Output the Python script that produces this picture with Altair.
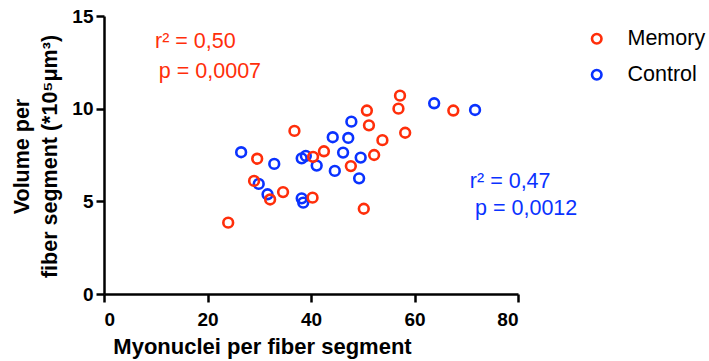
import altair as alt
import pandas as pd

# Memory group
mem_x = [24.0, 29.0, 29.6, 32.1, 34.6, 36.8, 40.4, 40.3, 42.5, 47.7, 50.2, 50.8, 51.2, 52.2, 53.8, 56.9, 57.2, 58.2, 67.5]
mem_y = [3.85, 6.1, 7.3, 5.1, 5.5, 8.8, 7.4, 5.2, 7.7, 6.9, 4.6, 9.9, 9.1, 7.5, 8.3, 10.0, 10.7, 8.7, 9.9]
# Control group
ctl_x = [26.5, 29.9, 31.6, 32.9, 38.2, 39.0, 38.2, 38.5, 41.1, 44.2, 44.6, 46.2, 47.2, 47.8, 49.6, 49.3, 63.8, 71.7]
ctl_y = [7.65, 5.94, 5.38, 7.02, 7.32, 7.45, 5.16, 4.93, 6.93, 8.46, 6.64, 7.63, 8.42, 9.3, 7.36, 6.24, 10.29, 9.93]

groups = ["Memory", "Control"]
colors = ["#FF2E0A", "#0A32FF"]

ann_text = ["r² = 0,50", "p = 0,0007", "r² = 0,47", "p = 0,0012"]
ann_x = [9.85, 10.6, 70.7, 71.7]
ann_y = [13.27, 11.65, 5.72, 4.26]
ann_group = ["Memory", "Memory", "Control", "Control"]

FONT = "Liberation Sans"

df = pd.DataFrame(
    {"x": ctl_x + mem_x, "y": ctl_y + mem_y,
     "group": ["Control"] * len(ctl_x) + ["Memory"] * len(mem_x)}
)
ann = pd.DataFrame({"x": ann_x, "y": ann_y, "text": ann_text, "group": ann_group})

xax = alt.Axis(
    values=[0, 20, 40, 60, 80], grid=False, domainColor="black", domainWidth=2.5,
    tickColor="black", tickWidth=2.5, tickSize=8, labelFont=FONT, labelFontSize=19,
    labelFontWeight="bold", labelColor="black", labelPadding=8,
    title="Myonuclei per fiber segment", titleFont=FONT, titleFontSize=22,
    titleFontWeight="bold", titleColor="black", titleX=158, titleY=59,
    titleBaseline="alphabetic", titleAlign="center",
)
yax = alt.Axis(
    values=[0, 5, 10, 15], grid=False, domainColor="black", domainWidth=2.5,
    tickColor="black", tickWidth=2.5, tickSize=8, labelFont=FONT, labelFontSize=19,
    labelFontWeight="bold", labelColor="black", labelPadding=3,
    title=["Volume per", "fiber segment (*10⁵μm³)"], titleFont=FONT, titleFontSize=21.5,
    titleFontWeight="bold", titleColor="black", titleX=-93, titleY=140,
    titleAlign="center", titleBaseline="top", titleLineHeight=28, titleAngle=270,
)

points = alt.Chart(df).mark_point(
    shape="circle", filled=False, size=95, strokeWidth=2.6, opacity=1
).encode(
    x=alt.X("x:Q", scale=alt.Scale(domain=[0, 80], nice=False, zero=True), axis=xax),
    y=alt.Y("y:Q", scale=alt.Scale(domain=[0, 15], nice=False), axis=yax),
    stroke=alt.Stroke(
        "group:N", scale=alt.Scale(domain=groups, range=colors),
        legend=alt.Legend(
            title=None, orient="none", legendX=482, legendY=12, labelFont=FONT,
            labelFontSize=21.5, labelColor="black", symbolSize=90, symbolStrokeWidth=2.6,
            symbolType="circle", symbolFillColor="white", labelOffset=20,
            rowPadding=13, padding=0,
        ),
    ),
)

texts = alt.Chart(ann).mark_text(
    align="left", baseline="alphabetic", font=FONT, fontSize=21.5
).encode(
    x="x:Q", y="y:Q", text="text:N",
    color=alt.Color("group:N", scale=alt.Scale(domain=groups, range=colors), legend=None),
)

chart = alt.layer(points, texts).resolve_scale(color="independent").properties(
    width=414, height=278,
    autosize=alt.AutoSizeParams(type="none"),
    padding={"left": 104, "top": 16, "right": 191, "bottom": 67},
    background="white",
).configure_view(stroke=None)

chart.save("out.html", embed_options={"renderer": "svg", "actions": False})
